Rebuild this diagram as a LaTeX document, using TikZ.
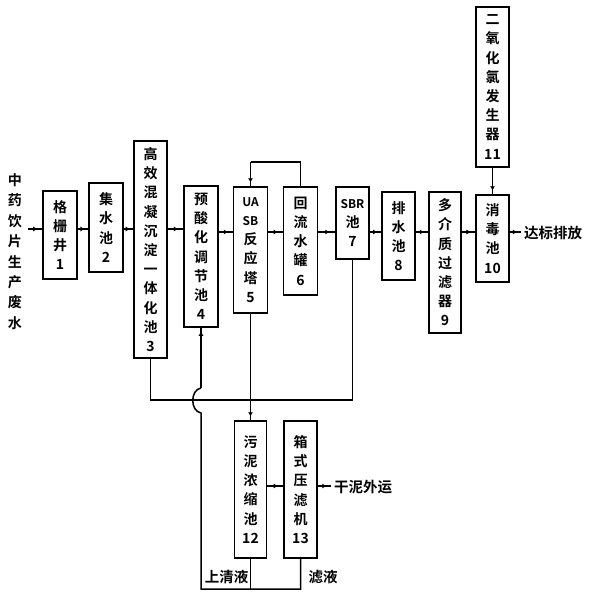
\documentclass[tikz,border=0pt]{standalone}
\usepackage{fontspec}
\newfontfamily\cjk{Noto Sans CJK SC}[UprightFont=* Bold]
\usetikzlibrary{arrows.meta,calc}
\tikzset{
  bx/.style={draw, line width=1.5pt, inner sep=0pt, align=center,
    font=\cjk\fontsize{14}{19.2}\selectfont},
  lbl/.style={inner sep=0pt, font=\cjk\fontsize{14.5}{17}\selectfont},
  ln/.style={line width=1.5pt},
  tip/.style={line width=1.5pt, -{Latex[length=4.5pt,width=5pt]}},
}
\newcommand\connmid[2]{\draw[ln] (#1) -- (#2); \draw[tip] (#1) -- ($(#1)!0.68!(#2)$);}
\newcommand\connend[2]{\draw[ln] (#1) -- (#2); \draw[tip] (#1) -- ($(#2)!3.5pt!(#1)$);}
\begin{document}
\begin{tikzpicture}[x=1pt,y=-1pt]
\useasboundingbox[fill=white] (0,0) rectangle (595,600);
% boxes
\node[bx, minimum width=34pt, minimum height=88pt] (b1) at (60,235) {格\\栅\\井\\1};
\node[bx, minimum width=34pt, minimum height=89pt] (b2) at (106,227.5) {集\\水\\池\\2};
\node[bx, minimum width=33pt, minimum height=217pt] (b3) at (150.5,249.5) {高\\效\\混\\凝\\沉\\淀\\一\\体\\化\\池\\3};
\node[bx, minimum width=34pt, minimum height=141pt] (b4) at (201,256.5) {预\\酸\\化\\调\\节\\池\\4};
\node[bx, minimum width=34pt, minimum height=126pt] (b5) at (250.5,250) {{\fontsize{12}{19.2}\selectfont UA}\\{\fontsize{12}{19.2}\selectfont SB}\\反\\应\\塔\\5};
\node[bx, minimum width=34pt, minimum height=108pt] (b6) at (300.5,241) {回\\流\\水\\罐\\6};
\node[bx, minimum width=33pt, minimum height=72pt] (b7) at (352.5,223) {{\fontsize{12}{19.2}\selectfont SBR}\\池\\7};
\node[bx, minimum width=33pt, minimum height=88pt] (b8) at (398.5,236) {排\\水\\池\\8};
\node[bx, minimum width=32pt, minimum height=141pt] (b9) at (445,262.5) {多\\介\\质\\过\\滤\\器\\9};
\node[bx, minimum width=33pt, minimum height=87pt] (b10) at (492.5,238.5) {消\\毒\\池\\10};
\node[bx, minimum width=33pt, minimum height=160pt] (b11) at (492.5,87) {二\\氧\\化\\氯\\发\\生\\器\\11};
\node[bx, minimum width=32pt, minimum height=137pt] (b12) at (250.5,489.5) {污\\泥\\浓\\缩\\池\\12};
\node[bx, minimum width=33pt, minimum height=137pt] (b13) at (300.5,489.5) {箱\\式\\压\\滤\\机\\13};
% labels
\node[inner sep=0pt, align=center, font=\cjk\fontsize{14}{20.4}\selectfont] (src) at (15,251.5) {中\\药\\饮\\片\\生\\产\\废\\水};
\node[lbl, anchor=west] (dis) at (524,233) {达标排放};
\node[lbl, anchor=west] (gan) at (334,487) {干泥外运};
\node[lbl] (sq) at (226.5,577) {上清液};
\node[lbl] (ly) at (323,577) {滤液};
% level coordinates
\coordinate (L1) at (0,229);
\coordinate (L2) at (0,232);
\coordinate (M) at (0,486);
\coordinate (tp) at (0,162);
\coordinate (hl) at (0,400);
\coordinate (bl) at (0,589);
\coordinate (in) at (28,229);
\coordinate (out) at (521,232);
\coordinate (gout) at (331,486);
\coordinate (h1) at (201,413);
\coordinate (h2) at (201,388);
% main line
\connmid{in}{b1.west |- L1}
\connmid{b1.east |- L1}{b2.west |- L1}
\connmid{b2.east |- L1}{b3.west |- L1}
\connmid{b3.east |- L1}{b4.west |- L1}
\connmid{b4.east |- L2}{b5.west |- L2}
\connmid{b5.east |- L2}{b6.west |- L2}
\connmid{b6.east |- L2}{b7.west |- L2}
\connmid{b7.east |- L2}{b8.west |- L2}
\connmid{b8.east |- L2}{b9.west |- L2}
\connmid{b9.east |- L2}{b10.west |- L2}
\connmid{b10.east |- L2}{out}
\connend{b11.south}{b10.north}
% recirculation 6 -> 5
\draw[ln] (b6.north) -- (b6.north |- tp) -- (b5.north |- tp);
\connend{b5.north |- tp}{b5.north}
% sludge
\draw[ln] (b3.south) -- (b3.south |- hl) -- (b7.south |- hl) -- (b7.south);
\connend{b5.south}{b12.north}
\connmid{b12.east |- M}{b13.west |- M}
\connmid{b13.east |- M}{gout}
% return liquids
\draw[ln] (b12.south) -- (b12.south |- bl);
\draw[ln] (b13.south) -- (b13.south |- bl) -- (b4.south |- bl) -- (h1)
  .. controls (190,411) and (190,390) .. (h2);
\connend{h2}{b4.south}
\end{tikzpicture}
\end{document}
